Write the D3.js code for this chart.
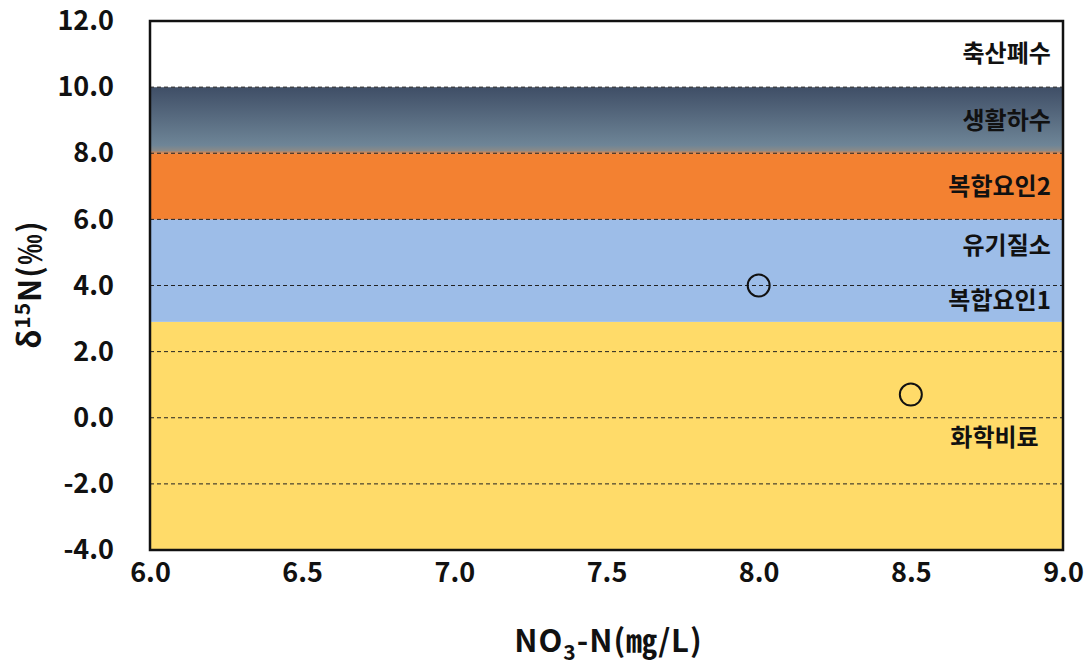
<!DOCTYPE html>
<html>
<head>
<meta charset="utf-8">
<script src="https://cdn.jsdelivr.net/npm/d3@7"></script>
<style>
body { margin: 0; background: #fff; }
text { font-family: "Noto Sans CJK KR", "Noto Sans", sans-serif; font-weight: bold; fill: #111; }
</style>
</head>
<body>
<script>
// bands: source categories and their d15N ranges
var bandNames = ["화학비료", "유기질소", "복합요인2", "생활하수", "축산폐수"];
var bandLow = [-4.0, 2.9, 6.0, 8.0, 10.0];
var bandHigh = [2.9, 8.0, 8.0, 10.0, 12.0];
var bandFill = ["#FFDB69", "#9DBDE8", "#F38131", "url(#grad)", "#ffffff"];

// labels inside the chart
var labelText = ["축산폐수", "생활하수", "복합요인2", "유기질소", "복합요인1", "화학비료"];
var labelY = [11.0, 9.0, 7.0, 5.2, 3.55, -0.6];
var labelX = [8.96, 8.96, 8.96, 8.96, 8.96, 8.92];

// measured points
var no3 = [8.0, 8.5];
var d15n = [4.0, 0.7];

var xTicks = [6.0, 6.5, 7.0, 7.5, 8.0, 8.5, 9.0];
var yTicks = [-4, -2, 0, 2, 4, 6, 8, 10, 12];
var gridVals = [-2, 0, 2, 4, 6, 8, 10];

var margin = { top: 21, right: 26, bottom: 118, left: 150 };
var W = 1089, H = 668;
var width = W - margin.left - margin.right, height = H - margin.top - margin.bottom;

var svgRoot = d3.select("body").append("svg")
	.attr("width", W)
	.attr("height", H);

var grad = svgRoot.append("defs").append("linearGradient")
	.attr("id", "grad")
	.attr("x1", 0).attr("y1", 0).attr("x2", 0).attr("y2", 1);
grad.append("stop").attr("offset", "0%").attr("stop-color", "#3f4e66");
grad.append("stop").attr("offset", "88%").attr("stop-color", "#6e8597");
grad.append("stop").attr("offset", "96%").attr("stop-color", "#8a8a88");
grad.append("stop").attr("offset", "100%").attr("stop-color", "#e0864a");

var svg = svgRoot.append("g")
	.attr("transform", "translate(" + margin.left + "," + margin.top + ")");

var x = d3.scaleLinear().domain([6, 9]).range([0, width]);
var y = d3.scaleLinear().domain([-4, 12]).range([height, 0]);

svg.append("g").selectAll("rect")
	.data(bandNames)
	.enter().append("rect")
	.attr("x", 0)
	.attr("width", width)
	.attr("y", (d, i) => y(bandHigh[i]))
	.attr("height", (d, i) => y(bandLow[i]) - y(bandHigh[i]))
	.style("fill", (d, i) => bandFill[i]);

svg.append("g").selectAll("line")
	.data(gridVals)
	.enter().append("line")
	.attr("x1", 0).attr("x2", width)
	.attr("y1", d => y(d)).attr("y2", d => y(d))
	.style("stroke", "#222")
	.style("stroke-width", 1)
	.style("stroke-dasharray", "4,3");

svg.append("g").selectAll("text")
	.data(labelText)
	.enter().append("text")
	.attr("x", (d, i) => x(labelX[i]))
	.attr("y", (d, i) => y(labelY[i]))
	.attr("dy", "0.35em")
	.attr("text-anchor", "end")
	.style("font-size", "24px")
	.text(d => d);

svg.append("g").selectAll("circle")
	.data(no3)
	.enter().append("circle")
	.attr("cx", d => x(d))
	.attr("cy", (d, i) => y(d15n[i]))
	.attr("r", 11)
	.style("fill", "none")
	.style("stroke", "#111")
	.style("stroke-width", 2);

svg.append("rect")
	.attr("width", width)
	.attr("height", height)
	.style("fill", "none")
	.style("stroke", "#111")
	.style("stroke-width", 2.5);

var fmt = d => d3.format(".1f")(d).replace("−", "-");
var xAxis = d3.axisBottom(x).tickValues(xTicks).tickFormat(fmt).tickSize(0).tickPadding(13);
var yAxis = d3.axisLeft(y).tickValues(yTicks).tickFormat(fmt).tickSize(0).tickPadding(36);

var xAxisElem = svg.append("g")
	.attr("transform", "translate(0," + height + ")")
	.call(xAxis);
var yAxisElem = svg.append("g").call(yAxis);

[xAxisElem, yAxisElem].forEach(function (g) {
	g.select(".domain").remove();
	g.selectAll("text").style("font-size", "27px").style("font-family", "\"Noto Sans CJK KR\", sans-serif").style("fill", "#111");
});

// axis titles
var xt = svgRoot.append("text")
	.attr("x", margin.left + width / 2 + 2)
	.attr("y", 652)
	.attr("text-anchor", "middle")
	.style("letter-spacing", "1px")
	.style("font-size", "31px");
xt.append("tspan").text("NO");
xt.append("tspan").attr("dy", 8).style("font-size", "21px").text("3");
xt.append("tspan").attr("dy", -8).text("-N(㎎/L)");

var yt = svgRoot.append("text")
	.attr("transform", "translate(41," + (margin.top + height / 2 - 1) + ") rotate(-90)")
	.attr("text-anchor", "middle")
	.style("letter-spacing", "1px")
	.style("font-size", "31px");
yt.append("tspan").text("δ");
yt.append("tspan").attr("dy", -11).style("font-size", "21px").text("15");
yt.append("tspan").attr("dy", 11).text("N(‰)");
</script>
</body>
</html>
